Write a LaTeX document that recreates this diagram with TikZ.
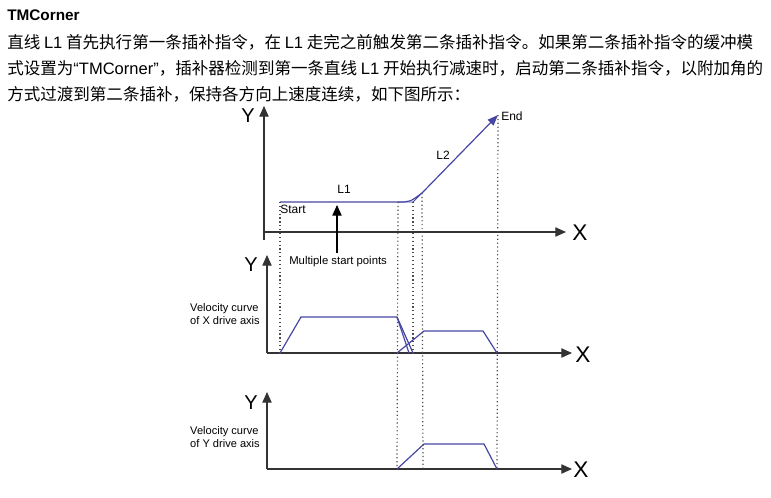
\documentclass[tikz,border=0pt]{standalone}
\usepackage{fontspec}
\setmainfont{Liberation Sans}
\newfontfamily\cjk{Noto Sans CJK SC}
\usetikzlibrary{arrows.meta}
\definecolor{curveblue}{RGB}{70,70,165}

\begin{document}
\begin{tikzpicture}[x=0.75pt, y=-0.75pt,
  every node/.style = {inner sep=0pt, font=\fontsize{9}{11}\selectfont},
  axis/.style = {draw=black!80, line width=0.8pt, -{Triangle[length=8pt,width=7pt]}},
  guide/.style = {draw=black!70, line width=0.9pt, dotted},
  curve/.style = {draw=curveblue, line width=0.9pt},
  axlbl/.style = {font=\fontsize{15}{15}\selectfont},
  para/.style = {anchor=west, font=\fontsize{12.4}{14}\selectfont\cjk}]
  \useasboundingbox (0,0) rectangle (771,497);
  % heading and text
  \node[anchor=west, font=\fontsize{11.5}{14}\selectfont\bfseries] (title) at (7,15) {TMCorner};
  \node[para] (line1) at (7,42) {直线 {\rmfamily L1} 首先执行第一条插补指令，在 {\rmfamily L1} 走完之前触发第二条插补指令。如果第二条插补指令的缓冲模};
  \node[para] (line2) at (7,68) {式设置为{\rmfamily “TMCorner”}，插补器检测到第一条直线 {\rmfamily L1} 开始执行减速时，启动第二条插补指令，以附加角的};
  \node[para] (line3) at (7,94) {方式过渡到第二条插补，保持各方向上速度连续，如下图所示：};
  % position plot
  \coordinate (o1) at (264,232);
  \coordinate (y1) at (264,106);
  \coordinate (x1) at (566,232);
  \draw[axis] (264,240) -- (y1);
  \draw[axis] (o1) -- (x1);
  \node[axlbl] (Y1) at (248,116) {Y};
  \node[axlbl, font=\fontsize{17}{17}\selectfont] (X1) at (580,233) {X};
  \coordinate (start) at (280,202);
  \coordinate (dec) at (398,202);
  \coordinate (corner) at (413,202);
  \coordinate (join) at (422,193);
  \coordinate (finish) at (498,115);
  \draw[curve] (start) -- (dec) .. controls (410,202) .. (join);
  \draw[curve, line width=0.6pt] (dec) -- (corner) -- (join);
  \draw[curve, -{Triangle[length=8pt,width=6pt]}] (join) -- (finish);
  \node[anchor=west] (end) at (501,116) {End};
  \node (L1) at (344,189) {L1};
  \node (L2) at (443,155) {L2};
  \node[anchor=west] (startlbl) at (280,209) {Start};
  \coordinate (arrtail) at (337,253);
  \draw[draw=black, line width=0.8pt, -{Triangle[length=8pt,width=7pt]}] (arrtail) -- (337,205);
  \node[anchor=west, font=\fontsize{8.5}{10}\selectfont] (multi) at (289,262) {Multiple start points};
  % X velocity plot
  \draw[axis] (267,353) -- (267,255);
  \draw[axis] (267,353) -- (572,353);
  \node[axlbl] (Y2) at (251,265) {Y};
  \node[axlbl, font=\fontsize{17}{17}\selectfont] (X2) at (583,355) {X};
  \node[align=left, anchor=east, font=\fontsize{8.3}{9.6}\selectfont] (xlbl) at (260,314) {Velocity curve\\of X drive axis};
  \draw[curve] (280,353) -- (301,317) -- (397,317) -- (413,353);
  \draw[curve] (397,317) -- (409,353);
  \draw[curve] (397,353) -- (424,331) -- (483,331) -- (497,353);
  % Y velocity plot
  \draw[axis] (267,469) -- (267,392);
  \draw[axis] (267,469) -- (572,469);
  \node[axlbl] (Y3) at (251,403) {Y};
  \node[axlbl, font=\fontsize{17}{17}\selectfont] (X3) at (581,470) {X};
  \node[align=left, anchor=east, font=\fontsize{8.3}{9.6}\selectfont] (ylbl) at (260,437) {Velocity curve\\of Y drive axis};
  \draw[curve] (397,469) -- (424,444) -- (484,444) -- (497,469);
  % guide lines
  \draw[guide] (start) -- (280,353);
  \draw[guide] (dec) -- (397,469);
  \draw[guide] (corner) -- (413,353);
  \draw[guide] (join) -- (423,469);
  \draw[guide] (finish) -- (497,469);
\end{tikzpicture}
\end{document}
